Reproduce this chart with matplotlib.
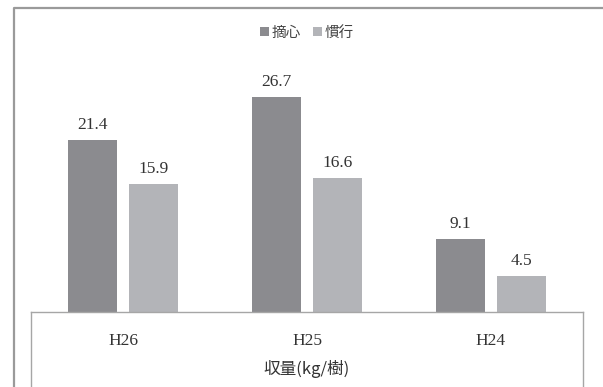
import matplotlib
matplotlib.use("Agg")
import matplotlib.pyplot as plt
from matplotlib.lines import Line2D
import numpy as np

# data
categories = ["H26", "H25", "H24"]
series_names = ["摘心", "慣行"]
tekishin = [21.4, 26.7, 9.1]
kanko = [15.9, 16.6, 4.5]
colors = ["#8b8b8f", "#b3b4b8"]
axis_title = "収量(kg/樹)"

cjk = ["Noto Sans CJK JP", "DejaVu Sans"]
serif = ["Liberation Serif", "DejaVu Serif"]

W, H = 603, 387
fig = plt.figure(figsize=(W / 100, H / 100), dpi=100, facecolor="w")

# axes box in pixels (left, top, right, bottom)
ax_l, ax_t, ax_r, ax_b = 31, 20, 583, 312
ax = fig.add_axes([ax_l / W, 1 - ax_b / H, (ax_r - ax_l) / W, (ax_b - ax_t) / H])

x = np.arange(len(categories))
bw = 0.266
off = 0.168
b1 = ax.bar(x - off, tekishin, bw, color=colors[0], label=series_names[0])
b2 = ax.bar(x + off, kanko, bw, color=colors[1], label=series_names[1])

for bars, vals in ((b1, tekishin), (b2, kanko)):
    for r, v in zip(bars, vals):
        ax.annotate("%.1f" % v, (r.get_x() + r.get_width() / 2, v),
                    xytext=(0, 5), textcoords="offset points",
                    ha="center", va="bottom", fontsize=12.5,
                    family=serif, color="#333333")

ax.set_xlim(-0.5, len(categories) - 0.5)
ax.set_ylim(0, (ax_b - ax_t) / 8.05)
ax.set_yticks([])
ax.set_xticks(x)
ax.set_xticklabels(categories, family=serif, fontsize=12.5, color="#333333")
ax.tick_params(axis="x", length=0, pad=15)
for s in ("top", "left", "right"):
    ax.spines[s].set_visible(False)
ax.spines["bottom"].set_color("#a6a6a6")
ax.spines["bottom"].set_linewidth(1.0)
ax.patch.set_alpha(0)

ax.text(0.5, (ax_b - 369) / (ax_b - ax_t), axis_title, transform=ax.transAxes,
        ha="center", va="center", fontsize=12, family=cjk, color="#333333")

# vertical lines of the category box
for px in (ax_l, ax_r):
    fig.add_artist(Line2D([px / W, px / W], [0, 1 - ax_b / H],
                          color="#a6a6a6", lw=1.0))

# outer chart frame
fig.add_artist(Line2D([14 / W, 14 / W, 1], [0, 1 - 7.5 / H, 1 - 7.5 / H],
                      color="#9a9a9a", lw=1.6))

leg = fig.legend(handles=[b1, b2], labels=series_names, loc="center",
                 bbox_to_anchor=(307 / W, 1 - 33 / H), ncol=2, frameon=False,
                 prop={"family": cjk, "size": 10.5}, handlelength=0.6,
                 handleheight=0.6, handletextpad=0.2, columnspacing=0.8)
for t in leg.get_texts():
    t.set_color("#444444")

fig.savefig("out.png", dpi=100)
